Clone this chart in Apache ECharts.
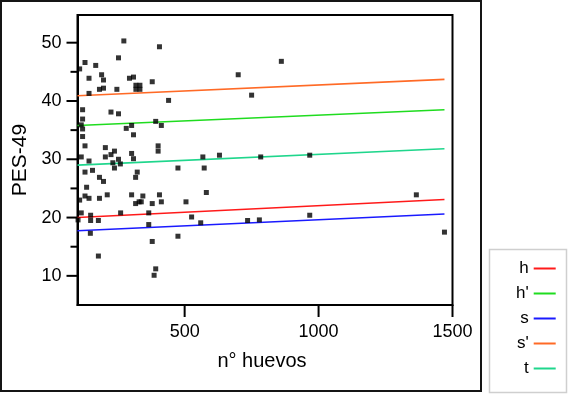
<!DOCTYPE html>
<html>
<head>
<meta charset="utf-8">
<script src="https://cdn.jsdelivr.net/npm/echarts@6/dist/echarts.min.js"></script>
<style>
  html, body { margin: 0; padding: 0; background: #fff; }
  #chart { width: 570px; height: 398px; }
</style>
</head>
<body>
<div id="chart"></div>
<script>
// n° huevos (x) and PES-49 (y) of each individual
var huevos = [273, 406, 128, 168, 253, 108, 190, 143, 197, 294, 309, 318, 333, 318, 333,
  379, 182, 197, 247, 143, 440, 700, 750, 119, 225, 253, 119, 114, 119, 119,
  282, 302, 309, 392, 413, 128, 204, 238, 225, 204, 253, 232, 260, 238, 302,
  309, 401, 401, 114, 143, 128, 156, 182, 197, 323, 317, 134, 108, 128, 143,
  182, 211, 302, 344, 317, 330, 338, 379, 406, 413, 475, 568, 573, 630, 784,
  581, 505, 114, 149, 261, 366, 102, 149, 178, 148, 366, 526, 560, 379, 475,
  178, 392, 386, 735, 779, 861, 967, 1365, 967, 1470];
var pes = [50.3, 49.3, 46.6, 46.1, 47.4, 45.5, 44.5, 43.9, 43.6, 43.9, 44.1, 42.7, 42.7, 42.0, 42.0,
  43.3, 42.0, 42.2, 42.0, 41.3, 40.1, 44.5, 41.0, 38.5, 38.1, 37.8, 36.9, 35.9, 35.2, 33.9,
  35.3, 35.8, 34.2, 36.5, 35.8, 32.3, 32.0, 31.4, 30.8, 30.4, 30.0, 29.4, 29.2, 28.5, 31.0,
  30.1, 32.3, 31.4, 30.4, 29.7, 27.8, 28.1, 26.9, 26.2, 27.8, 26.9, 25.2, 23.0, 23.7, 23.3,
  23.3, 23.9, 23.9, 23.7, 22.4, 22.7, 22.7, 22.4, 23.9, 22.7, 28.5, 30.4, 28.5, 30.7, 30.4,
  24.3, 22.7, 20.8, 20.4, 20.8, 20.8, 19.6, 19.5, 19.5, 17.3, 18.8, 20.1, 19.1, 15.9, 16.8,
  13.4, 11.2, 10.1, 19.5, 19.6, 46.8, 30.7, 23.9, 20.4, 17.5];

// fitted lines, value at start and end of the x range
var fitX = [100, 1470];
var fitNames = ['h', "h'", 's', "s'", 't'];
var fitH = [20.0, 23.1];
var fitH2 = [35.8, 38.5];
var fitS = [17.75, 20.6];
var fitS2 = [40.9, 43.7];
var fitT = [29.0, 31.8];
var fitColors = ['#ff1a1a', '#1fdc1f', '#1a1aff', '#ff6a26', '#1fd68c'];

var xTicks = [500, 1000, 1500];
var yTicks = [10, 20, 30, 40, 50];
var yMinor = [15, 25, 35, 45];

var font = 'Liberation Sans, Arial, sans-serif';
var X_MIN = 100, Y_MIN = 5;

var points = huevos.map(function (v, i) { return [v, pes[i]]; });
function fitLine(vals) {
  return fitX.map(function (v, i) { return [v, vals[i]]; });
}
var fits = [fitH, fitH2, fitS, fitS2, fitT];

var frames = [
  {
    type: 'rect', z: -1,
    shape: { x: 1, y: 1, width: 480, height: 390 },
    style: { fill: 'none', stroke: '#151515', lineWidth: 2 }
  },
  {
    type: 'rect',
    shape: { x: 489.5, y: 249.5, width: 77, height: 143 },
    style: { fill: 'none', stroke: '#cfcfcf', lineWidth: 1.5 }
  }
];

var myChart = echarts.init(document.getElementById('chart'));
myChart.setOption({
  animation: false,
  backgroundColor: '#fff',
  textStyle: { fontFamily: font },
  grid: {
    left: 77.5, top: 15, right: 117.5, bottom: 93,
    show: true, borderColor: '#000', borderWidth: 2
  },
  graphic: frames,
  legend: {
    data: fitNames,
    orient: 'vertical',
    left: 516, top: 260,
    padding: 0,
    align: 'right',
    icon: 'rect',
    itemWidth: 22, itemHeight: 2,
    itemGap: 8,
    textStyle: { fontSize: 17, color: '#000', fontFamily: font }
  },
  xAxis: {
    type: 'value', min: X_MIN, max: 1500,
    name: 'n° huevos', nameLocation: 'middle', nameGap: 46,
    nameTextStyle: { fontSize: 20, color: '#000', fontFamily: font, padding: [0, 6, 0, 0] },
    axisLine: { show: true, lineStyle: { color: '#000', width: 2 } },
    axisTick: { show: false },
    axisLabel: {
      customValues: xTicks, fontSize: 18, color: '#000', margin: 18, fontFamily: font,
      formatter: function (v) { return String(v); }
    },
    splitLine: { show: false }
  },
  yAxis: {
    type: 'value', min: Y_MIN, max: 54.75,
    name: 'PES-49', nameLocation: 'middle', nameGap: 40,
    nameTextStyle: { fontSize: 21, color: '#000', fontFamily: font },
    axisLine: { show: true, lineStyle: { color: '#000', width: 2 } },
    axisTick: { show: false },
    axisLabel: { customValues: yTicks, fontSize: 18, color: '#000', margin: 16, fontFamily: font },
    splitLine: { show: false }
  },
  series: [
    {
      type: 'scatter',
      data: points,
      symbol: 'rect',
      symbolSize: 5,
      itemStyle: { color: '#000' },
      z: 3
    }
  ].concat(fits.map(function (vals, i) {
    return {
      name: fitNames[i],
      type: 'line',
      data: fitLine(vals),
      showSymbol: false,
      symbol: 'none',
      lineStyle: { color: fitColors[i], width: 1.6 },
      itemStyle: { color: fitColors[i] },
      z: 2
    };
  }))
});

// tick marks, placed through the chart's own scales
function tickLine(x1, y1, x2, y2) {
  return {
    type: 'line',
    shape: { x1: x1, y1: y1, x2: x2, y2: y2 },
    style: { stroke: '#000', lineWidth: 2 }
  };
}
var ticks = [];
yTicks.forEach(function (v) {
  var p = myChart.convertToPixel({ gridIndex: 0 }, [X_MIN, v]);
  ticks.push(tickLine(p[0] - 11, p[1], p[0], p[1]));
});
yMinor.forEach(function (v) {
  var p = myChart.convertToPixel({ gridIndex: 0 }, [X_MIN, v]);
  ticks.push(tickLine(p[0] - 7, p[1], p[0], p[1]));
});
xTicks.forEach(function (v) {
  var p = myChart.convertToPixel({ gridIndex: 0 }, [v, Y_MIN]);
  ticks.push(tickLine(p[0], p[1], p[0], p[1] + 12));
});
myChart.setOption({ graphic: frames.concat(ticks) });
</script>
</body>
</html>
